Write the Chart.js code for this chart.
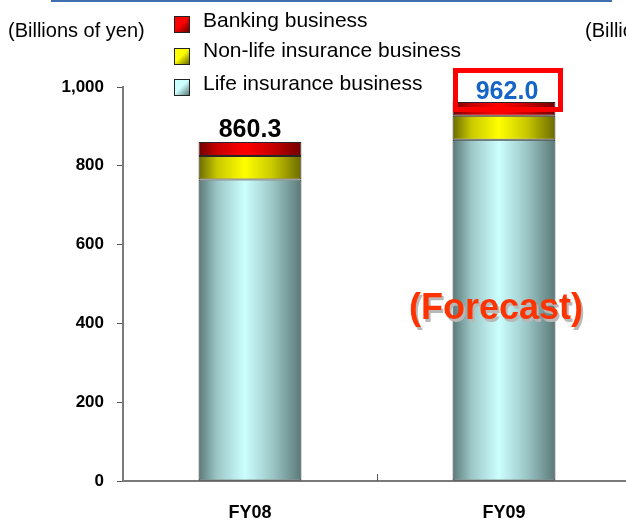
<!DOCTYPE html>
<html>
<head>
<meta charset="utf-8">
<script src="https://cdn.jsdelivr.net/npm/chart.js@4.4.1/dist/chart.umd.min.js"></script>
<style>
  html, body { margin: 0; padding: 0; background: #fff; overflow: hidden; width: 626px; height: 521px; }
  #wrap { position: relative; width: 626px; height: 521px; overflow: hidden; }
  #cv { position: absolute; left: 0; top: 0; }
  .txt { position: absolute; font-family: "Liberation Sans", Arial, sans-serif; color: #000; white-space: nowrap; line-height: 24px; }
  .mk { position: absolute; width: 14px; height: 15px; border: 1px solid #222; }
  #topline { position: absolute; left: 51px; top: 0; width: 561px; height: 2px; background: #3f6fae; }
</style>
</head>
<body>
<div id="wrap">
  <canvas id="cv" width="640" height="521"></canvas>
  <div id="topline"></div>
  <div class="txt" style="left:8px; top:18px; font-size:20px;">(Billions of yen)</div>
  <div class="txt" style="left:585px; top:18px; font-size:20px;">(Billions of yen)</div>
  <div id="legend"></div>
</div>
<script>
// ---- data ----
const categories = ['FY08', 'FY09'];
const seriesNames = ['Life insurance business', 'Non-life insurance business', 'Banking business'];
const lifeValues = [765, 866];
const nonLifeValues = [60, 61];
const bankingValues = [35.3, 35];
const totalLabels = ['860.3', '962.0'];
const isForecast = [false, true];
const forecastText = '(Forecast)';
const yTickValues = [0, 200, 400, 600, 800, 1000];

// ---- styles ----
const palette = [
  { dark: '#5a7978', mid: '#9cc6c6', light: '#ccffff' },
  { dark: '#6a6a00', mid: '#c8c800', light: '#ffff00' },
  { dark: '#700000', mid: '#c80000', light: '#ff0000' }
];
const BAR_PCT = 0.405;

function gradFor(si) {
  return function (ctx) {
    const chart = ctx.chart;
    const p = palette[si];
    const xs = chart.scales && chart.scales.x;
    if (!chart.chartArea || !xs || ctx.dataIndex === undefined) return p.light;
    const cx = xs.getPixelForValue(ctx.dataIndex);
    const w = (xs.width / categories.length) * BAR_PCT;
    const g = chart.ctx.createLinearGradient(cx - w / 2, 0, cx + w / 2, 0);
    g.addColorStop(0, p.dark);
    g.addColorStop(0.18, p.mid);
    g.addColorStop(0.45, p.light);
    g.addColorStop(0.72, p.mid);
    g.addColorStop(1, p.dark);
    return g;
  };
}

// ---- legend (HTML, from series names) ----
(function buildLegend() {
  const leg = document.getElementById('legend');
  const order = [2, 1, 0];
  const textTops = [8, 38, 71];
  const mkTops = [16, 48, 79];
  order.forEach((si, k) => {
    const p = palette[si];
    const m = document.createElement('div');
    m.className = 'mk';
    m.style.left = '174px';
    m.style.top = mkTops[k] + 'px';
    m.style.background = 'linear-gradient(135deg, ' + p.light + ' 0%, ' + p.light + ' 45%, ' + p.dark + ' 100%)';
    leg.appendChild(m);
    const t = document.createElement('div');
    t.className = 'txt';
    t.style.left = '203px';
    t.style.top = textTops[k] + 'px';
    t.style.fontSize = '21px';
    t.textContent = seriesNames[si];
    leg.appendChild(t);
  });
})();

// ---- plugins ----
const boxPlugin = {
  id: 'boxPlugin',
  afterDatasetsDraw(chart) {
    const c = chart.ctx, xs = chart.scales.x, ys = chart.scales.y;
    const area = chart.chartArea;
    // inward x-axis ticks at category boundaries
    c.save();
    c.strokeStyle = '#555';
    c.lineWidth = 1;
    const cw = xs.width / categories.length;
    for (let i = 0; i < categories.length - 1; i++) {
      const bx = Math.round(xs.getPixelForValue(i) + cw / 2) + 0.5;
      c.beginPath();
      c.moveTo(bx, area.bottom);
      c.lineTo(bx, area.bottom - 7);
      c.stroke();
    }
    c.restore();
    categories.forEach((cat, i) => {
      const total = lifeValues[i] + nonLifeValues[i] + bankingValues[i];
      const top = ys.getPixelForValue(total);
      const cx = xs.getPixelForValue(i);
      c.save();
      if (isForecast[i]) {
        // highlight box over the bar top
        const bx0 = cx - 48.5, bx1 = cx + 56.5, by0 = top - 31.5, by1 = top + 7.5;
        c.fillStyle = '#ffffff';
        c.fillRect(bx0, by0, bx1 - bx0, top - by0);
        c.strokeStyle = '#ff0000';
        c.lineWidth = 5;
        c.strokeRect(bx0, by0, bx1 - bx0, by1 - by0);
      }
      c.font = 'bold 25px "Liberation Sans", Arial, sans-serif';
      c.textAlign = 'center';
      c.textBaseline = 'alphabetic';
      if (isForecast[i]) {
        c.fillStyle = '#1565c8';
        c.fillText(totalLabels[i], cx + 3, top - 3);
        // forecast annotation
        c.font = 'bold 36px "Liberation Sans", Arial, sans-serif';
        c.fillStyle = '#b8b8b8';
        c.fillText(forecastText, cx - 6, ys.getPixelForValue(410) + 3);
        c.fillStyle = '#ff3300';
        c.fillText(forecastText, cx - 8, ys.getPixelForValue(410));
      } else {
        c.fillStyle = '#000';
        c.fillText(totalLabels[i], cx, top - 5);
      }
      c.restore();
    });
  }
};

const tickFont = { family: '"Liberation Sans", Arial, sans-serif', size: 17, weight: 'bold' };

new Chart(document.getElementById('cv'), {
  type: 'bar',
  data: {
    labels: categories,
    datasets: [
      { label: seriesNames[0], data: lifeValues, backgroundColor: gradFor(0) },
      { label: seriesNames[1], data: nonLifeValues, backgroundColor: gradFor(1) },
      { label: seriesNames[2], data: bankingValues, backgroundColor: gradFor(2) }
    ].map(d => Object.assign(d, {
      borderColor: '#262626', borderWidth: 1, borderSkipped: false,
      categoryPercentage: 1, barPercentage: BAR_PCT
    }))
  },
  options: {
    responsive: false,
    animation: false,
    devicePixelRatio: 1,
    layout: { padding: { left: 0, right: 9, top: 87, bottom: 0 } },
    plugins: { legend: { display: false }, tooltip: { enabled: false }, title: { display: false } },
    scales: {
      x: {
        stacked: true,
        grid: { display: false, drawTicks: false },
        border: { display: true, color: '#7a7a7a', width: 2 },
        ticks: { font: Object.assign({}, tickFont, { size: 18 }), color: '#000', padding: 21 },
        afterFit(s) { s.height = 40; }
      },
      y: {
        stacked: true,
        min: 0, max: 1000,
        afterBuildTicks(s) { s.ticks = yTickValues.map(v => ({ value: v })); },
        grid: { drawOnChartArea: false, drawTicks: true, tickLength: 6, color: '#555' },
        border: { display: true, color: '#7a7a7a', width: 2 },
        ticks: {
          font: tickFont, color: '#000', padding: 13,
          callback: v => v.toLocaleString('en-US')
        },
        afterFit(s) { s.width = 123; }
      }
    }
  },
  plugins: [boxPlugin]
});
</script>
</body>
</html>
